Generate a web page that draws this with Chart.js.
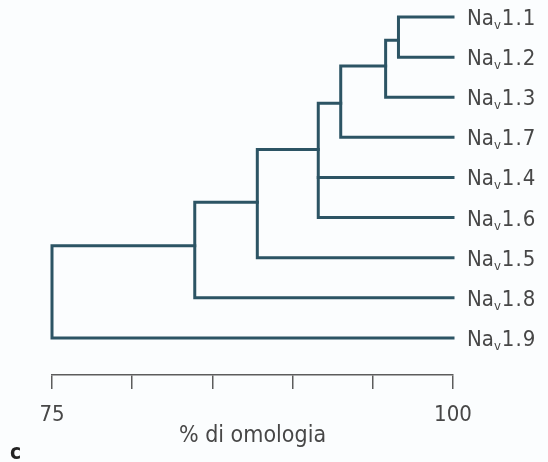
<!DOCTYPE html>
<html>
<head>
<meta charset="utf-8">
<script src="https://cdn.jsdelivr.net/npm/chart.js@4/dist/chart.umd.min.js"></script>
<style>
  html, body { margin: 0; padding: 0; background: #fbfdfe; }
  #wrap { width: 548px; height: 462px; position: relative; }
</style>
</head>
<body>
<div id="wrap"><canvas id="dendro"></canvas></div>
<script>
// leaves, top to bottom (Na_v subtype)
const leafNames = ['1.1', '1.2', '1.3', '1.7', '1.4', '1.6', '1.5', '1.8', '1.9'];
const leafHeight = 100;

// merge nodes: % homology, row of outgoing branch, children (L = leaf, N = node)
const nodeHeights = [96.6, 95.8, 93.0, 91.6, 87.8, 83.9, 75.0];
const nodeRows = [0.58, 1.22, 2.15, 3.3, 4.62, 5.7, 6.85];
const nodeChildren = [
    ['L0', 'L1'],
    ['N0', 'L2'],
    ['N1', 'L3'],
    ['N2', 'L4', 'L5'],
    ['N3', 'L6'],
    ['N4', 'L7'],
    ['N5', 'L8'],
];

const axisTicks = [75, 80, 85, 90, 95, 100];
const labeledTicks = [75, 100];
const axisTitle = '% di omologia';
const panelLetter = 'c';

const LINE = '#2c5464';
const TEXT = '#474747';
const AXIS = '#5c5c5c';

function childPos(ref) {
    const i = Number(ref.slice(1));
    if (ref[0] === 'L') return { x: leafHeight, y: i };
    return { x: nodeHeights[i], y: nodeRows[i] };
}

// build elbow segments from the tree arrays
const segments = [];
nodeChildren.forEach((kids, n) => {
    const h = nodeHeights[n];
    const pts = kids.map(childPos).sort((a, b) => a.y - b.y);
    const first = pts[0];
    const last = pts[pts.length - 1];
    segments.push([
        { x: first.x, y: first.y },
        { x: h, y: first.y },
        { x: h, y: last.y },
        { x: last.x, y: last.y },
    ]);
    pts.slice(1, -1).forEach((p) => {
        segments.push([{ x: p.x, y: p.y }, { x: h, y: p.y }]);
    });
});

const datasets = segments.map((seg) => ({
    data: seg,
    borderColor: LINE,
    borderWidth: 3,
    borderJoinStyle: 'miter',
    borderCapStyle: 'square',
    pointRadius: 0,
    tension: 0,
    fill: false,
    clip: false,
}));

const FONT = "'Liberation Sans Narrow', 'DejaVu Sans Condensed', 'Liberation Sans', sans-serif";

const leafLabels = {
    id: 'leafLabels',
    afterDatasetsDraw(chart) {
        const { ctx, scales } = chart;
        const x0 = scales.x.getPixelForValue(leafHeight) + 14;
        ctx.save();
        ctx.fillStyle = TEXT;
        ctx.textBaseline = 'alphabetic';
        ctx.textAlign = 'left';
        leafNames.forEach((name, i) => {
            const y = scales.y.getPixelForValue(i) + 8;
            let x = x0;
            ctx.font = '22px ' + FONT;
            ctx.fillText('Na', x, y);
            x += ctx.measureText('Na').width;
            ctx.font = '13px ' + FONT;
            ctx.fillText('v', x, y + 4);
            x += ctx.measureText('v').width + 1;
            ctx.font = '22px ' + FONT;
            ctx.letterSpacing = '1px';
            ctx.fillText(name, x, y);
            ctx.letterSpacing = '0px';
        });
        // panel letter
        ctx.font = 'bold 21px ' + FONT;
        ctx.fillStyle = '#222';
        ctx.fillText(panelLetter, 10, 459);
        ctx.restore();
    },
};

new Chart(document.getElementById('dendro'), {
    type: 'line',
    data: { datasets },
    plugins: [leafLabels],
    options: {
        responsive: true,
        maintainAspectRatio: false,
        animation: false,
        layout: { padding: { left: 52, right: 95, top: 1, bottom: 14 } },
        plugins: { legend: { display: false }, tooltip: { enabled: false } },
        scales: {
            x: {
                type: 'linear',
                min: 75,
                max: 100,
                afterBuildTicks: (scale) => {
                    scale.ticks = axisTicks.map((v) => ({ value: v }));
                },
                ticks: {
                    color: TEXT,
                    font: { family: FONT, size: 22, lineHeight: 1 },
                    padding: 15,
                    maxRotation: 0,
                    autoSkip: false,
                    callback: (v) => (labeledTicks.includes(v) ? String(v) : ''),
                },
                grid: {
                    drawOnChartArea: false,
                    drawTicks: true,
                    tickLength: 14,
                    color: AXIS,
                    lineWidth: 1.5,
                },
                border: { display: true, color: AXIS, width: 1.5 },
                title: {
                    display: true,
                    text: axisTitle,
                    color: TEXT,
                    font: { family: FONT, size: 23, lineHeight: 1 },
                    padding: { top: -16, bottom: 0 },
                },
            },
            y: {
                type: 'linear',
                reverse: true,
                min: -0.4,
                max: 8.925,
                display: false,
            },
        },
    },
});
</script>
</body>
</html>
